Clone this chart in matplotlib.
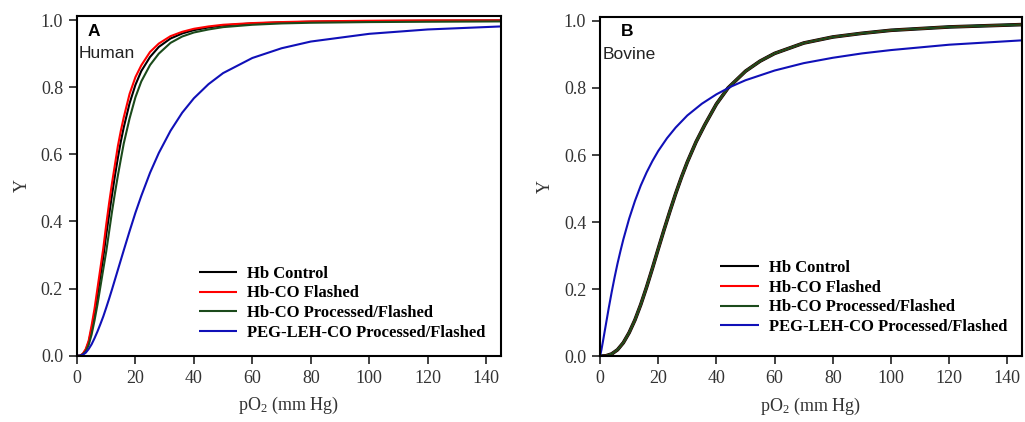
import matplotlib
matplotlib.use("Agg")
import matplotlib.pyplot as plt

# Curvas (pO2 en mm Hg, Y = saturacion)
labels = ["Hb Control", "Hb-CO Flashed", "Hb-CO Processed/Flashed",
          "PEG-LEH-CO Processed/Flashed"]

# Panel A: humano
x_hum = [0, 1, 2, 3, 4, 5, 6, 7, 8, 9, 10, 11, 12, 13, 14, 15, 16, 18, 20, 22,
         25, 28, 32, 36, 40, 45, 50, 60, 70, 80, 100, 120, 145]
hum_control = [0, 0.0, 0.005, 0.017, 0.04, 0.08, 0.125, 0.18, 0.237, 0.294, 0.36,
               0.42, 0.48, 0.537, 0.59, 0.638, 0.68, 0.752, 0.807, 0.848, 0.89,
               0.92, 0.945, 0.96, 0.97, 0.978, 0.984, 0.99, 0.993, 0.995, 0.997,
               0.998, 0.999]
hum_flashed = [0, 0.0, 0.006, 0.02, 0.045, 0.09, 0.14, 0.2, 0.26, 0.32, 0.39,
               0.455, 0.515, 0.57, 0.625, 0.67, 0.71, 0.78, 0.83, 0.865, 0.905,
               0.93, 0.952, 0.965, 0.974, 0.981, 0.986, 0.991, 0.994, 0.996,
               0.998, 0.999, 0.999]
hum_processed = [0, 0.0, 0.004, 0.013, 0.032, 0.063, 0.105, 0.152, 0.205, 0.258,
                 0.31, 0.37, 0.43, 0.485, 0.537, 0.585, 0.632, 0.707, 0.77, 0.817,
                 0.866, 0.9, 0.932, 0.951, 0.963, 0.972, 0.979, 0.986, 0.99, 0.992,
                 0.994, 0.995, 0.996]
hum_peg = [0, 0.0, 0.003, 0.009, 0.02, 0.034, 0.052, 0.072, 0.094, 0.117, 0.143,
           0.17, 0.198, 0.227, 0.256, 0.285, 0.314, 0.371, 0.426, 0.476, 0.545,
           0.604, 0.67, 0.724, 0.767, 0.809, 0.842, 0.887, 0.916, 0.936, 0.959,
           0.972, 0.981]

# Panel B: bovino
x_bov = [0, 2, 4, 6, 8, 10, 12, 14, 16, 18, 20, 22, 24, 26, 28, 30, 33, 36, 40,
         44, 50, 55, 60, 70, 80, 90, 100, 120, 145]
bov_control = [0, 0.001, 0.0066, 0.019, 0.04, 0.07, 0.108, 0.154, 0.206, 0.262,
               0.32, 0.377, 0.432, 0.485, 0.534, 0.579, 0.639, 0.69, 0.752, 0.80,
               0.85, 0.88, 0.903, 0.934, 0.952, 0.963, 0.972, 0.982, 0.989]
bov_flashed = bov_control
bov_processed = bov_control

x_bov_peg = [0, 0.5, 1, 2, 3, 4, 5, 6, 7, 8, 10, 12, 14, 16, 18, 20, 23, 26, 30,
             35, 40, 45, 50, 60, 70, 80, 90, 100, 120, 145]
bov_peg = [0, 0.02, 0.044, 0.094, 0.144, 0.191, 0.235, 0.276, 0.313, 0.348, 0.41,
           0.463, 0.509, 0.548, 0.582, 0.612, 0.65, 0.682, 0.718, 0.753, 0.781,
           0.804, 0.823, 0.852, 0.874, 0.89, 0.903, 0.913, 0.929, 0.942]

colores = ["black", "#ff0000", "#1b4a1b", "#1010b8"]

serif = "Liberation Serif"
sans = "Liberation Sans"

# Todo el texto en serif salvo las etiquetas A/B y especie
plt.rcParams["font.family"] = [serif, "DejaVu Serif"]
plt.rcParams["mathtext.fontset"] = "custom"
plt.rcParams["mathtext.rm"] = serif
plt.rcParams["mathtext.it"] = serif

fig = plt.figure(figsize=(10.25, 4.22), dpi=100)
ax_a = fig.add_axes([0.0751, 0.157, 0.4134, 0.805])
ax_b = fig.add_axes([0.5854, 0.156, 0.4116, 0.804])


def pintaPanel(ax, curvas, letra, especie, letra_x, leg_y):
    for (xs, ys), c, lbl, lw in curvas:
        ax.plot(xs, ys, color=c, lw=lw, label=lbl, solid_capstyle="butt")

    ax.set_xlim(0, 145)
    ax.set_ylim(0, 1.012)
    ax.set_xticks(range(0, 141, 20))
    ax.set_yticks([0, 0.2, 0.4, 0.6, 0.8, 1.0])
    ax.set_yticklabels(["0.0", "0.2", "0.4", "0.6", "0.8", "1.0"])
    ax.tick_params(direction="out", length=6, width=1.3, labelsize=13,
                   colors="#333333", top=False, right=False, pad=4)
    for sp in ax.spines.values():
        sp.set_linewidth(1.5)

    ax.set_xlabel("pO$_2$ (mm Hg)", fontsize=13, color="#333333", labelpad=6)
    ax.set_ylabel("Y", fontsize=13, color="#333333", labelpad=7)

    ax.text(letra_x, 0.978, letra, transform=ax.transAxes, fontfamily=sans,
            fontweight="bold", fontsize=12.5, va="top", ha="left")
    ax.text(0.005, 0.912, especie, transform=ax.transAxes, fontfamily=sans,
            fontsize=12.5, va="top", ha="left", color="#222222")

    handles, lbls = ax.get_legend_handles_labels()
    orden = [lbls.index(l) for l in labels]
    lg = ax.legend([handles[i] for i in orden], [lbls[i] for i in orden],
                   loc="lower right", bbox_to_anchor=(1.0, leg_y), frameon=False,
                   prop={"weight": "bold", "size": 12.0},
                   handlelength=2.3, handletextpad=0.6, labelspacing=0.22)
    for h in lg.legend_handles:
        h.set_linewidth(1.5)


pintaPanel(ax_a, [((x_hum, hum_control), colores[0], labels[0], 1.5),
                  ((x_hum, hum_flashed), colores[1], labels[1], 1.5),
                  ((x_hum, hum_processed), colores[2], labels[2], 1.5),
                  ((x_hum, hum_peg), colores[3], labels[3], 1.5)],
           "A", "Human", 0.025, 0.0)

pintaPanel(ax_b, [((x_bov, bov_control), colores[0], labels[0], 2.6),
                  ((x_bov, bov_flashed), colores[1], labels[1], 1.5),
                  ((x_bov, bov_processed), colores[2], labels[2], 1.6),
                  ((x_bov_peg, bov_peg), colores[3], labels[3], 1.5)],
           "B", "Bovine", 0.05, 0.018)

fig.savefig("out.png", dpi=100)
